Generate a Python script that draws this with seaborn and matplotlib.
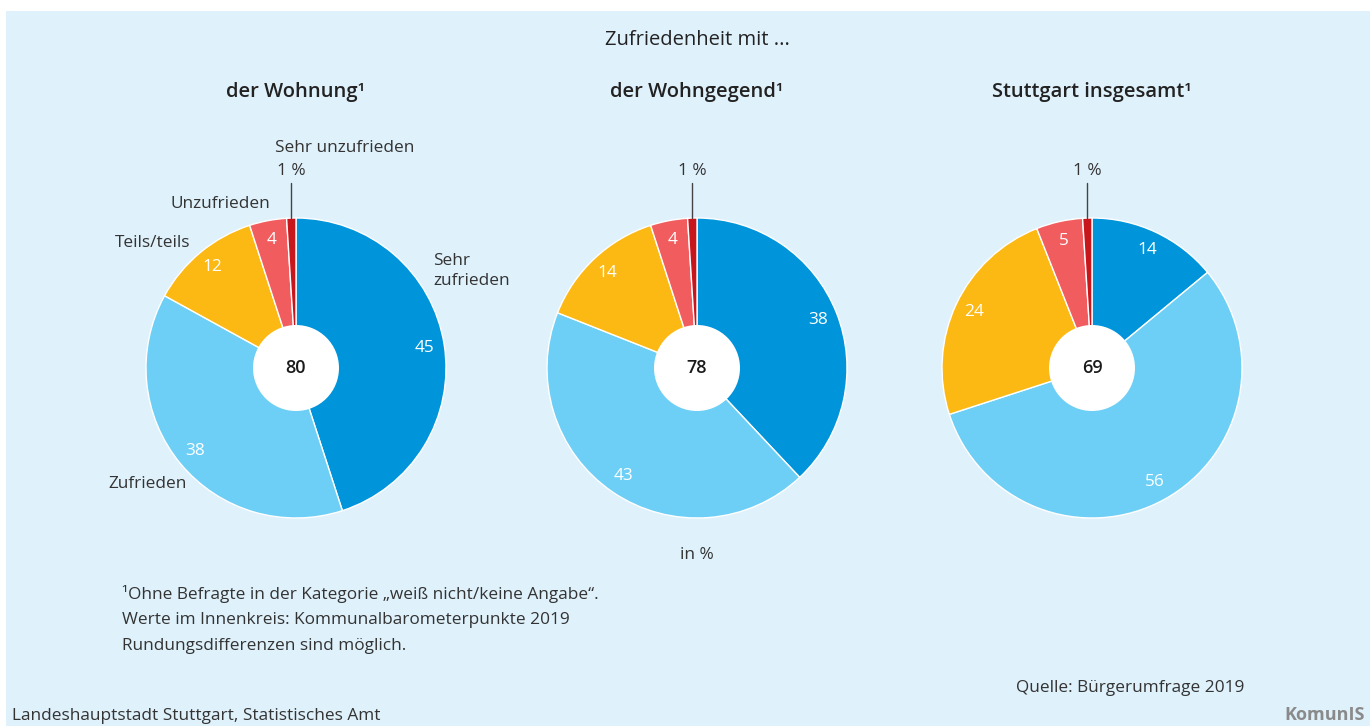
import numpy as np
import matplotlib
matplotlib.use("Agg")
import matplotlib.pyplot as plt
import seaborn as sns
from matplotlib.patches import Rectangle, Circle

# data
categories = ["Sehr zufrieden", "Zufrieden", "Teils/teils", "Unzufrieden", "Sehr unzufrieden"]
wohnung = [45, 38, 12, 4, 1]
wohngegend = [38, 43, 14, 4, 1]
stuttgart = [14, 56, 24, 5, 1]
inner_values = [80, 78, 69]
titles = ["der Wohnung¹", "der Wohngegend¹", "Stuttgart insgesamt¹"]
colors = ["#0095da", "#6dcff6", "#fdb913", "#f15d5f", "#c8161d"]

sns.set_theme(style="white")
plt.rcParams['font.family'] = ['Open Sans', 'DejaVu Sans']
txt = "#333333"
fs = 12.4

W, H = 1370, 726
fig = plt.figure(figsize=(W / 100, H / 100), dpi=100)
fig.patch.set_facecolor("white")
fig.patches.append(Rectangle((6 / W, 0), 1, 1 - 11 / H, transform=fig.transFigure,
                             facecolor="#dff1fb", edgecolor="none", zorder=-1))

def fx(px):
    return px / W

def fy(py):
    return 1 - py / H

centers = [296, 697, 1092]
cy = 368
R = 150
series = [wohnung, wohngegend, stuttgart]

for i, (vals, cx) in enumerate(zip(series, centers)):
    ax = fig.add_axes([fx(cx - R), fy(cy + R), 2 * R / W, 2 * R / H])
    ax.set_zorder(2)
    ax.patch.set_visible(False)
    wedges, _, autotexts = ax.pie(vals, colors=colors, startangle=90, counterclock=False,
                                  autopct=lambda p: f"{p:.0f}" if p >= 2 else "",
                                  pctdistance=0.87,
                                  wedgeprops=dict(edgecolor="white", linewidth=1))
    for t in autotexts:
        t.set_color("white")
        t.set_fontsize(fs)
    ax.add_patch(Circle((0, 0), 43 / R, facecolor="white", edgecolor="none", zorder=5))
    ax.text(0, 0, str(inner_values[i]), ha="center", va="center", fontsize=13,
            fontweight="semibold", color="#1a1a1a", zorder=6)
    ax.set_xlim(-1, 1)
    ax.set_ylim(-1, 1)
    ax.set_aspect("equal")
    ax.axis("off")

    # leader line for the smallest slice
    w = wedges[-1]
    ang = np.deg2rad((w.theta1 + w.theta2) / 2)
    lx = np.cos(ang)
    ax.plot([lx, lx], [1.0, 1.233], color="#444444", lw=1, clip_on=False)
    ax.text(lx, 1.313, f"{vals[-1]} %", ha="center", va="center", fontsize=fs, color=txt)

    fig.text(fx(cx), fy(92), titles[i], ha="center", va="center", fontsize=14.5,
             fontweight="semibold", color="#222222")

    if i == 0:
        ax.text(0.913, 0.647, "Sehr\nzufrieden", ha="left", va="center", fontsize=fs,
                color=txt, linespacing=1.3)
        ax.text(-0.727, -0.773, "Zufrieden", ha="right", va="center", fontsize=fs, color=txt)
        ax.text(-0.707, 0.833, "Teils/teils", ha="right", va="center", fontsize=fs, color=txt)
        ax.text(-0.173, 1.093, "Unzufrieden", ha="right", va="center", fontsize=fs, color=txt)
        ax.text(-0.14, 1.467, "Sehr unzufrieden", ha="left", va="center", fontsize=fs, color=txt)

fig.text(fx(697), fy(40), "Zufriedenheit mit ...", ha="center", va="center",
         fontsize=14.5, color="#222222")
fig.text(fx(697), fy(555), "in %", ha="center", va="center", fontsize=fs, color=txt)

notes = ["¹Ohne Befragte in der Kategorie „weiß nicht/keine Angabe“.",
         "Werte im Innenkreis: Kommunalbarometerpunkte 2019",
         "Rundungsdifferenzen sind möglich."]
for k, line in enumerate(notes):
    fig.text(fx(122), fy(594 + 26 * k), line, ha="left", va="center", fontsize=fs, color=txt)

fig.text(fx(1244), fy(688), "Quelle: Bürgerumfrage 2019", ha="right", va="center",
         fontsize=fs, color=txt)
fig.text(fx(12), fy(716), "Landeshauptstadt Stuttgart, Statistisches Amt", ha="left",
         va="center", fontsize=fs, color=txt)
fig.text(fx(1365), fy(715), "KomunIS", ha="right", va="center", fontsize=13,
         fontweight="bold", color="#8a8a8a")

fig.savefig("out.png", dpi=100, facecolor=fig.get_facecolor())
